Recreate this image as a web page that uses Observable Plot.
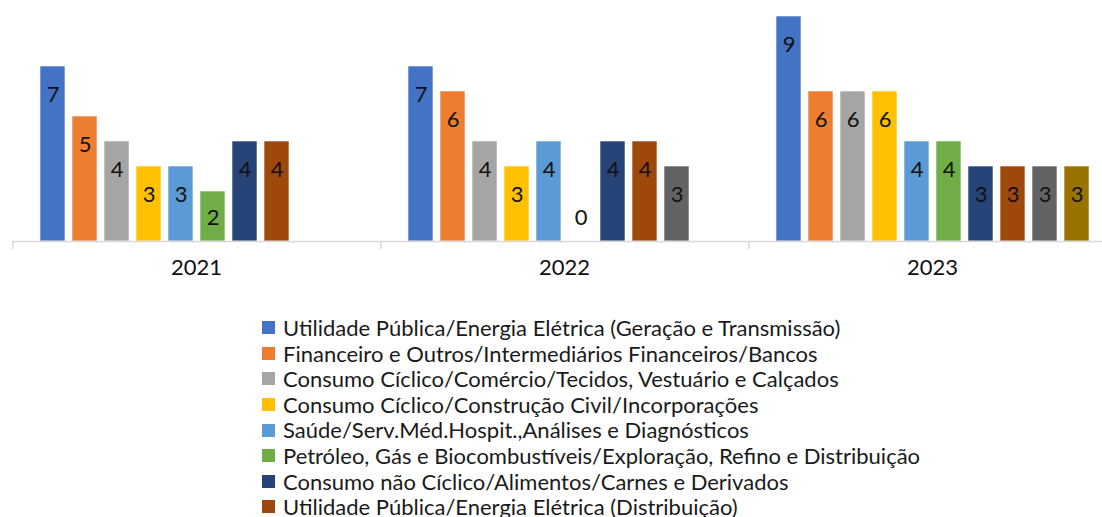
<!DOCTYPE html>
<html>
<head>
<meta charset="utf-8">
<script src="https://cdn.jsdelivr.net/npm/d3@7"></script>
<script src="https://cdn.jsdelivr.net/npm/@observablehq/plot@0.6"></script>
<style>
  html, body { margin: 0; padding: 0; background: #fff; }
  #wrap { position: relative; width: 1102px; height: 517px; overflow: hidden; }
  #chart { position: absolute; left: 0; top: 0; width: 1116px; }
  #chart svg { max-width: none !important; }
  #legend { position: absolute; left: 262px; top: 315px; font-family: Lato, sans-serif; font-size: 22px; color: #1a1a1a; }
  .row { height: 25.6px; line-height: 25.6px; white-space: nowrap; display: flex; align-items: center; }
  .sw { width: 13px; height: 13px; margin-right: 8px; flex: none; }
</style>
</head>
<body>
<div id="wrap"><div id="chart"></div><div id="legend"></div></div>
<script>
const years = ["2021", "2022", "2023"];
const sectors = [
  "Utilidade Pública/Energia Elétrica (Geração e Transmissão)",
  "Financeiro e Outros/Intermediários Financeiros/Bancos",
  "Consumo Cíclico/Comércio/Tecidos, Vestuário e Calçados",
  "Consumo Cíclico/Construção Civil/Incorporações",
  "Saúde/Serv.Méd.Hospit.,Análises e Diagnósticos",
  "Petróleo, Gás e Biocombustíveis/Exploração, Refino e Distribuição",
  "Consumo não Cíclico/Alimentos/Carnes e Derivados",
  "Utilidade Pública/Energia Elétrica (Distribuição)",
  "Série 9",
  "Série 10"
];
const legendCount = 8; // entries visible in the reference
const values2021 = [7, 5, 4, 3, 3, 2, 4, 4, null, null];
const values2022 = [7, 6, 4, 3, 4, 0, 4, 4, 3, null];
const values2023 = [9, 6, 6, 6, 4, 4, 3, 3, 3, 3];
const colors = ["#4472C4", "#ED7D31", "#A5A5A5", "#FFC000", "#5B9BD5", "#70AD47", "#264478", "#9E480E", "#636363", "#997300"];

const byYear = [values2021, values2022, values2023];
const data = years.flatMap((y, i) => byYear[i].map((v, j) => ({year: y, sector: sectors[j], value: v})))
  .filter(d => d.value != null);

const chart = Plot.plot({
  width: 1116,
  height: 300,
  marginLeft: 12,
  marginRight: 0,
  marginTop: 16,
  marginBottom: 59,
  fx: {domain: years, padding: 0, axis: null},
  x: {domain: sectors, paddingInner: 0.22, paddingOuter: 0.86, axis: null},
  y: {domain: [0, 9], axis: null},
  color: {domain: sectors, range: colors},
  style: {fontFamily: "Lato, sans-serif", fontSize: "22px", color: "#1a1a1a", background: "transparent", maxWidth: "none"},
  marks: [
    Plot.barY(data, {fx: "year", x: "sector", y: "value", fill: "sector", stroke: "#fff", strokeWidth: 0.6}),
    Plot.ruleY([0], {stroke: "#d9d9d9", strokeWidth: 1.5}),
    Plot.ruleX(years, {fx: d => d, x: () => sectors[0], y1: 0, y2: -0.32, dx: -40, stroke: "#d9d9d9", strokeWidth: 1.5}),
    Plot.text(data, {fx: "year", x: "sector", y: d => Math.max(d.value - 1.12, 0.96), text: d => String(d.value), fill: "#111", fontSize: 22}),
    Plot.text(years, {fx: d => d, frameAnchor: "bottom", dy: 33, text: d => d, fill: "#111", fontSize: 22})
  ]
});
document.getElementById("chart").appendChild(chart);

const color = chart.scale("color");
const legend = document.getElementById("legend");
sectors.slice(0, legendCount).forEach(s => {
  const row = document.createElement("div");
  row.className = "row";
  const sw = document.createElement("span");
  sw.className = "sw";
  sw.style.background = color.apply(s);
  const t = document.createElement("span");
  t.textContent = s;
  row.appendChild(sw);
  row.appendChild(t);
  legend.appendChild(row);
});
</script>
</body>
</html>
